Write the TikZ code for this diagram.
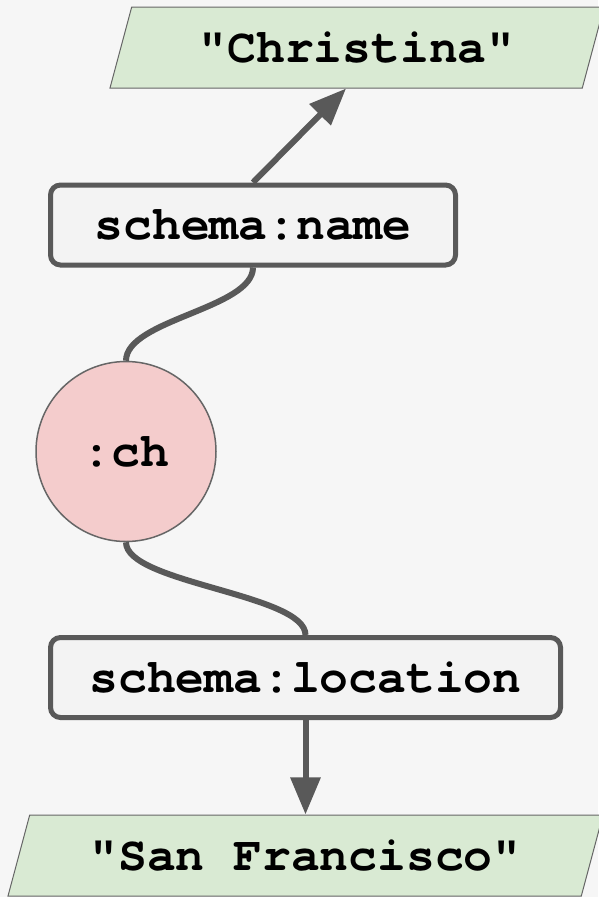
\documentclass[tikz,border=0pt]{standalone}
\usepackage{fontspec}
\usetikzlibrary{shapes.geometric,arrows.meta}

\newfontfamily\codefont{texgyrecursor}[Extension=.otf, UprightFont=*-regular, BoldFont=*-bold]

\definecolor{bgcol}{HTML}{F6F6F6}
\definecolor{edgecol}{HTML}{595959}
\definecolor{thincol}{HTML}{666666}
\definecolor{litcol}{HTML}{D9EAD3}
\definecolor{rescol}{HTML}{F4CCCC}
\definecolor{propcol}{HTML}{F3F3F3}

\begin{document}
\begin{tikzpicture}[x=1pt,y=-1pt,
		every node/.style={font=\codefont\bfseries\fontsize{48}{58}\selectfont, inner sep=0pt},
		literal/.style={trapezium, trapezium left angle=75, trapezium right angle=105,
			trapezium stretches body, draw=thincol, line width=1pt, fill=litcol,
			text height=30pt, text depth=0pt, inner ysep=25.5pt},
		property/.style={rectangle, rounded corners=10pt, draw=edgecol, line width=5pt,
			fill=propcol, minimum height=80pt},
		resource/.style={circle, draw=thincol, line width=1.5pt, fill=rescol, minimum size=180pt},
		link/.style={draw=edgecol, line width=6pt},
		pointer/.style={link, -{Triangle[length=37pt,width=29pt]}}]
		
		% Background
		\fill[bgcol] (0,0) rectangle (598,897);
		\useasboundingbox (0,0) rectangle (598,897);
		
		% Literals
		\node[literal, minimum width=494pt] (christina) at (357,47.5) {"Christina"};
		\node[literal, minimum width=595pt] (sf) at (305.5,855.5) {"San Francisco"};
		
		% Properties
		\node[property, minimum width=405pt] (name) at (253,225) {schema:name};
		\node[property, minimum width=510pt] (location) at (305.5,677.5) {schema:location};
		
		% Subject
		\node[resource] (ch) at (126,451.5) {:ch};
		
		% Edges
		\draw[pointer] (name.north) -- (christina.bottom side);
		\draw[link] (name.south) .. controls +(0,41) and +(0,-41) .. (ch.north);
		\draw[link] (ch.south) .. controls +(0,41) and +(0,-41) .. (location.north);
		\draw[pointer] (location.south) -- (location.south |- sf.north);
		
	\end{tikzpicture}
\end{document}
